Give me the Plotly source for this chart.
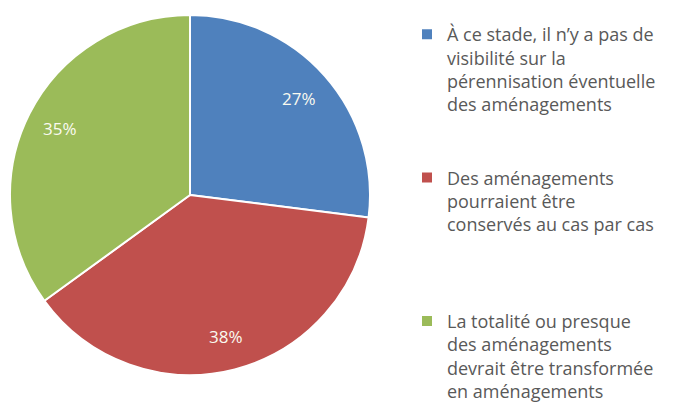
import numpy as np
import plotly.graph_objects as go

# slice labels, as wrapped in the legend (trailing blank lines space the entries)
labels = [
    "À ce stade, il n’y a pas de<br>visibilité sur la<br>pérennisation éventuelle<br>des aménagements<br> <br> ",
    "Des aménagements<br>pourraient être<br>conservés au cas par cas<br> <br> <br> ",
    "La totalité ou presque<br>des aménagements<br>devrait être transformée<br>en aménagements",
]
values = [27, 38, 35]
colors = ["#4F81BD", "#C0504D", "#9BBB59"]

# page body has an 8px margin, so the figure is a bit smaller than the window
W, H = 675, 402
pie_x = [2 / W, 362 / W]
pie_y = [35 / H, 395 / H]

fig = go.Figure()
fig.add_trace(go.Pie(
    labels=labels,
    values=values,
    sort=False,
    direction="clockwise",
    rotation=0,
    marker=dict(colors=colors, line=dict(color="white", width=2)),
    textinfo="none",
    domain=dict(x=pie_x, y=pie_y),
    hoverinfo="label+percent",
))

# percentage labels placed like Excel: ~80% of the radius along each slice's mid angle
cx = (pie_x[0] + pie_x[1]) / 2
cy = (pie_y[0] + pie_y[1]) / 2
r_px = (pie_x[1] - pie_x[0]) * W / 2
tot = sum(values)
cum = np.cumsum([0] + values[:-1])
for v, c in zip(values, cum):
    a = 2 * np.pi * (c + v / 2) / tot
    fig.add_annotation(
        x=cx + 0.81 * r_px * np.sin(a) / W,
        y=cy + 0.81 * r_px * np.cos(a) / H,
        xref="paper", yref="paper",
        xanchor="center", yanchor="middle",
        text=f"{round(100 * v / tot)}%",
        showarrow=False,
        font=dict(family="Open Sans", size=17, color="#FAFAF0"),
    )

fig.update_layout(
    width=W,
    height=H,
    margin=dict(l=0, r=0, t=0, b=0),
    paper_bgcolor="white",
    plot_bgcolor="white",
    showlegend=True,
    legend=dict(
        x=399 / W, y=1 - 12 / H, xanchor="left", yanchor="top",
        font=dict(family="Open Sans", size=18, color="#595959"),
        bgcolor="rgba(0,0,0,0)",
        itemwidth=30,
        valign="top",
    ),
)

fig.write_html("out.html")
